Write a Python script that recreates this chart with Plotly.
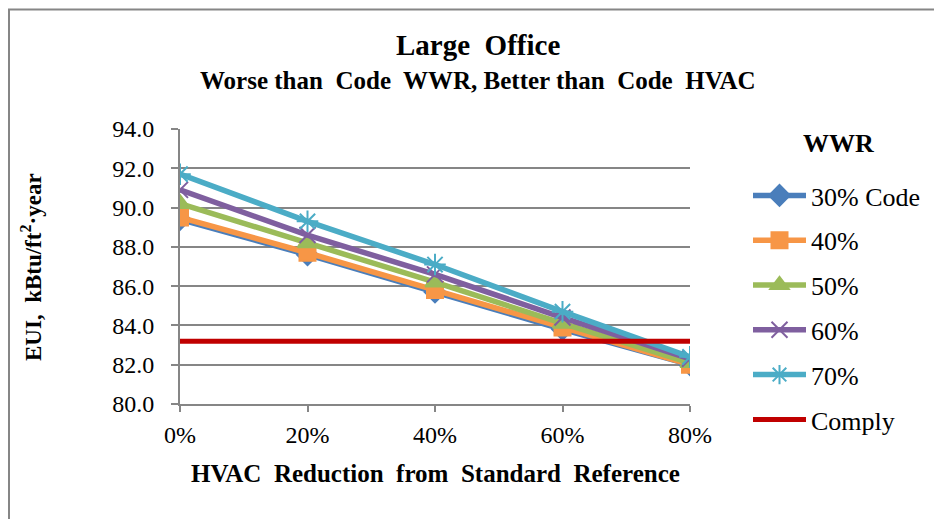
import plotly.graph_objects as go

categories = ["0%", "20%", "40%", "60%", "80%"]
wwr_30 = [89.4, 87.6, 85.7, 83.8, 82.0]
wwr_40 = [89.5, 87.7, 85.8, 83.9, 82.0]
wwr_50 = [90.2, 88.2, 86.2, 84.1, 82.1]
wwr_60 = [90.9, 88.6, 86.6, 84.4, 82.3]
wwr_70 = [91.7, 89.3, 87.1, 84.7, 82.4]
comply = [83.2, 83.2, 83.2, 83.2, 83.2]

series = [
    ("30% Code", wwr_30, "#4A7EBB", "diamond", 16),
    ("40%", wwr_40, "#F79646", "square", 16),
    ("50%", wwr_50, "#9BBB59", "triangle-up", 17),
    ("60%", wwr_60, "#7F5F9F", "x-thin-open", 16),
    ("70%", wwr_70, "#4BACC6", "asterisk-open", 18),
]

FONT = "Liberation Serif, Times New Roman, serif"

# page body has an 8px margin: figure is drawn 8px in from the window corner
OFF = 8
PL, PT, PW, PH = 180, 129, 510, 275  # plot area in window pixels
W, H = 942 - OFF, 519 - OFF


def px(xw):
    return (xw - PL) / PW


def py(yw):
    return (PT + PH - yw) / PH


fig = go.Figure()
for i, (name, vals, color, sym, size) in enumerate(series):
    fig.add_trace(go.Scatter(
        x=categories, y=vals, name=name, mode="lines+markers",
        line=dict(color=color, width=5.5),
        marker=dict(symbol=sym, size=size, color=color,
                    line=dict(color=color, width=2)),
        legendgroup=f"g{i}",
    ))
fig.add_trace(go.Scatter(
    x=categories, y=comply, name="Comply", mode="lines",
    line=dict(color="#C00000", width=5), legendgroup="g9",
))

fig.update_layout(
    width=W, height=H,
    margin=dict(l=PL - OFF, r=W - (PL - OFF) - PW, t=PT - OFF, b=H - (PT - OFF) - PH),
    paper_bgcolor="white", plot_bgcolor="white",
    font=dict(family=FONT, size=20, color="black"),
    showlegend=True,
    legend=dict(
        x=px(748), y=py(172), xanchor="left", yanchor="top",
        font=dict(family=FONT, size=26),
        tracegroupgap=8, itemwidth=53,
        bgcolor="rgba(0,0,0,0)", maxheight=480,
    ),
    xaxis=dict(
        type="category", range=[0, 4], automargin=False,
        showgrid=False, showline=True, linecolor="#868686", linewidth=2,
        ticks="outside", ticklen=6, tickcolor="#868686", tickwidth=2,
        tickfont=dict(family=FONT, size=24), ticklabelstandoff=2,
    ),
    yaxis=dict(
        range=[80, 94], dtick=2, tickformat=".1f", automargin=False,
        showgrid=True, gridcolor="#868686", gridwidth=2,
        showline=True, linecolor="#868686", linewidth=2,
        ticks="outside", ticklen=7, tickcolor="#868686", tickwidth=2,
        tickfont=dict(family=FONT, size=24), ticklabelstandoff=12,
        zeroline=False,
    ),
    annotations=[
        dict(text="<b>Large  Office</b>", xref="paper", yref="paper",
             x=px(478), y=py(45), xanchor="center", yanchor="middle",
             showarrow=False, font=dict(family=FONT, size=29)),
        dict(text="<b>Worse than  Code  WWR, Better than  Code  HVAC</b>", xref="paper", yref="paper",
             x=px(478), y=py(80), xanchor="center", yanchor="middle",
             showarrow=False, font=dict(family=FONT, size=25)),
        dict(text="<b>HVAC  Reduction  from  Standard  Reference</b>", xref="paper", yref="paper",
             x=px(435), y=py(473), xanchor="center", yanchor="middle",
             showarrow=False, font=dict(family=FONT, size=25)),
        dict(text="<b>EUI,  kBtu/ft<sup>2</sup>·year</b>", xref="paper", yref="paper",
             x=px(31), y=py(267), xanchor="center", yanchor="middle", textangle=-90,
             showarrow=False, font=dict(family=FONT, size=23)),
        dict(text="<b>WWR</b>", xref="paper", yref="paper",
             x=px(838), y=py(143), xanchor="center", yanchor="middle",
             showarrow=False, font=dict(family=FONT, size=26)),
    ],
    shapes=[
        dict(type="rect", xref="paper", yref="paper",
             x0=px(9), x1=px(980), y0=py(560), y1=py(9.5),
             line=dict(color="#868686", width=2), layer="below"),
    ],
)

fig.write_html("out.html")
